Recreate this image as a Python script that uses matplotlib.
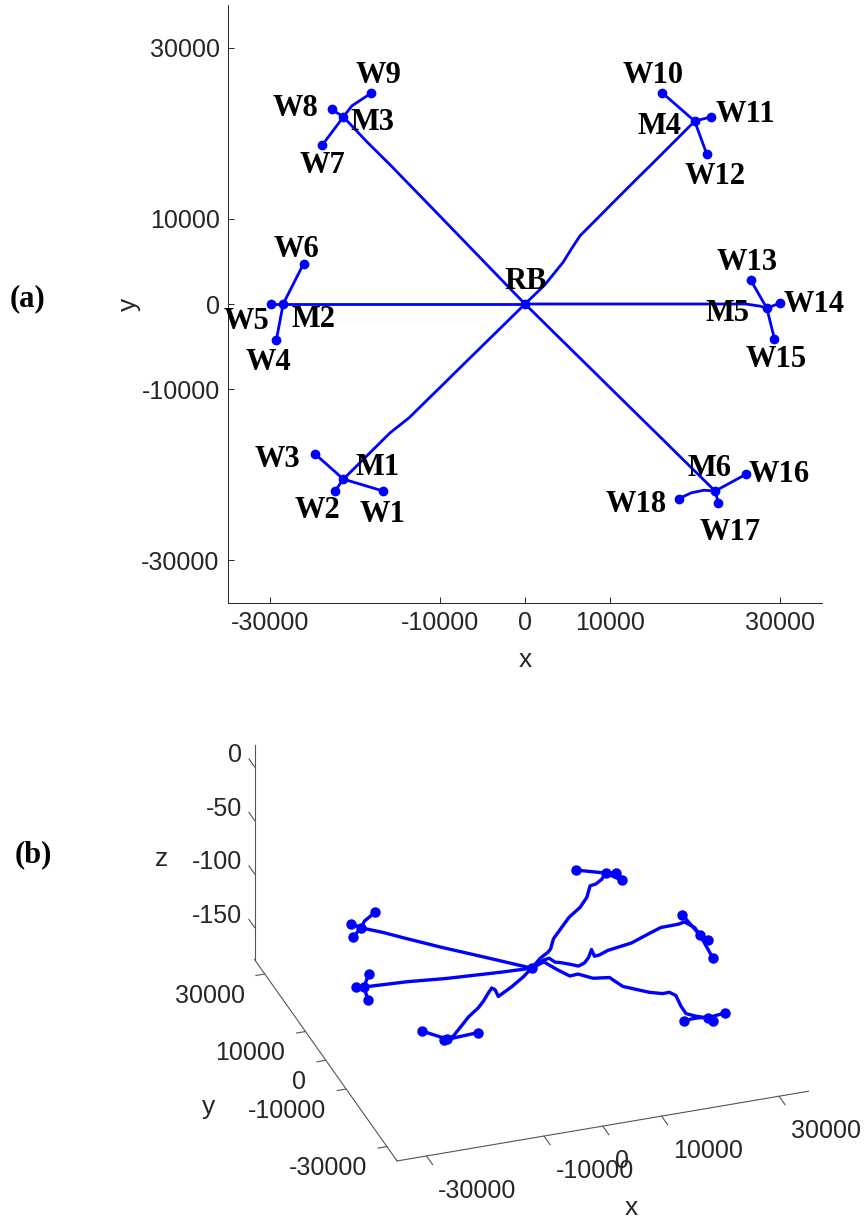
#!/usr/bin/env python3
"""Fleet paths from the rendezvous base RB to the hubs M1..M6 and on to the
waypoints W1..W18: (a) plan view with labels, (b) 3-D view with depth."""
import numpy as np
import matplotlib
matplotlib.use("Agg")
import matplotlib.pyplot as plt

BLUE = "#0000ff"
INK = "#262626"
SANS = "Liberation Sans"
SERIF = "Liberation Serif"

# ---- data -------------------------------------------------------------------
rb_x, rb_y, rb_z = 0, 0, -126.5

hub_names = ["M1", "M2", "M3", "M4", "M5", "M6"]
hub_x = [-21400, -28500, -21400, 20000, 28500, 22400]
hub_y = [-20500, 0, 21900, 21400, -500, -21900]
hub_z = [-118.0, -117.6, -127.8, -113.8, -121.0, -134.9]

w_names = [f"W{i}" for i in range(1, 19)]
w_hub = [0, 0, 0, 1, 1, 1, 2, 2, 2, 3, 3, 3, 4, 4, 4, 5, 5, 5]
w_x = [-16700, -22400, -24700, -29300, -29900, -26100, -23900, -22800, -18100,
       16200, 21900, 21400, 26600, 30000, 29400, 26100, 22800, 18100]
w_y = [-21900, -21900, -17600, -4200, 0, 4700, 18600, 22800, 24700,
       24700, 21900, 17600, 2800, 100, -4100, -19900, -23300, -22800]
w_z = [-112.3, -113.9, -115.0, -117.6, -116.0, -120.5, -125.0, -125.0, -124.0,
       -116.4, -116.6, -111.5, -108.8, -128.0, -133.0, -139.0, -134.6, -131.6]

# bends on the hub -> waypoint branches (plan view)
bend_w9_x, bend_w9_y = [-20400], [23200]
bend_w18_x, bend_w18_y = [21100, 19600], [-21800, -22100]

# tracks RB -> hub
m1_x = [0, -2100, -5090, -8530, -9370, -10230, -11090, -12390, -13640, -15900, -16420, -19860, -21400]
m1_y = [0, -2050, -4960, -8310, -9140, -9980, -10810, -12080, -13300, -15080, -15590, -18980, -20500]
m1_z = [-126.5, -127.1, -125.8, -122.7, -113.4, -108.7, -110.3, -113.5, -115.0, -116.5, -117.0, -120.4, -118.0]

m2_x = [0, -5000, -10000, -14370, -18000, -21150, -25000, -28500]
m2_y = [0, 0, 0, 0, 0, 0, 0, 0]
m2_z = [-126.5, -125.5, -124.0, -122.7, -121.0, -119.5, -118.5, -117.6]

m3_x = [0, -6000, -11400, -16000, -18600, -21400]
m3_y = [0, 6150, 11700, 16400, 18950, 21900]
m3_z = [-126.5, -127.0, -127.7, -127.5, -126.9, -127.8]

m4_x = [0, 2300, 4500, 5500, 6500, 10540, 13400, 15140, 15990, 17500, 19030, 20000]
m4_y = [0, 2200, 4900, 6500, 8000, 12036, 14875, 16574, 17420, 18919, 20437, 21400]
m4_z = [-126.5, -125.0, -129.0, -131.0, -126.6, -121.2, -122.2, -119.1, -111.3, -115.0, -116.1, -113.8]

m5_x = [0, 2000, 3000, 4000, 5000, 6500, 8000, 9000, 9700, 10200, 10700, 11500,
        13000, 17000, 20000, 22000, 25000, 26000, 27700, 28500]
m5_y = [0, 0, 0, 0, 0, 0, 0, 0, 0, 0, 0, 0, 0, 0, 0, 0, 0, 0, -250, -500]
m5_z = [-126.5, -121.0, -120.0, -124.6, -126.0, -128.9, -132.0, -130.0, -125.6, -118.6, -125.3, -125.0,
        -122.0, -118.8, -112.8, -109.0, -108.7, -107.5, -113.8, -121.0]

m6_x = [0, 1570, 3180, 4860, 5910, 7820, 9920, 10350, 11600, 14990, 16670, 17520,
        18350, 19000, 19620, 20880, 22400]
m6_y = [0, -1530, -3110, -4750, -5780, -7640, -9700, -10120, -11340, -14650, -16290, -17130,
        -17940, -18570, -19180, -20410, -21900]
m6_z = [-126.5, -118.0, -122.2, -125.6, -122.0, -122.7, -118.4, -119.9, -123.9, -123.7, -122.0, -119.3,
        -121.0, -129.9, -135.6, -136.0, -134.9]

# label anchors in the plan view
lab_names = ["RB", "M1", "M2", "M3", "M4", "M5", "M6"] + w_names
lab_x = [100, -17400, -24900, -18000, 15900, 23900, 21800,
         -16800, -24500, -29200, -30200, -32800, -26900, -23900, -27100, -17200,
         15100, 26000, 22400, 26200, 34100, 29600, 29900, 24200, 13100]
lab_y = [2600, -19100, -1800, 21200, 20800, -1100, -19200,
         -24600, -24200, -18200, -6800, -2100, 6400, 16200, 22900, 26700,
         26800, 22200, 14900, 4900, 0, -6500, -19900, -26700, -23500]

ticks_xy = [-30000, -10000, 0, 10000, 30000]
ticks_z = [0, -50, -100, -150]
LIM_XY = (-35000, 35000)
LIM_Z = (-180, 20)

legs = [(m1_x, m1_y, m1_z), (m2_x, m2_y, m2_z), (m3_x, m3_y, m3_z),
        (m4_x, m4_y, m4_z), (m5_x, m5_y, m5_z), (m6_x, m6_y, m6_z)]
bends = {"W9": (bend_w9_x, bend_w9_y), "W18": (bend_w18_x, bend_w18_y)}

branches = []
for i, h in enumerate(w_hub):
    mx, my = bends.get(w_names[i], ([], []))
    bx = [hub_x[h]] + mx + [w_x[i]]
    by = [hub_y[h]] + my + [w_y[i]]
    bz = np.linspace(hub_z[h], w_z[i], len(bx))
    branches.append((bx, by, bz))

dots_x = hub_x + w_x + [rb_x]
dots_y = hub_y + w_y + [rb_y]
dots_z = hub_z + w_z + [rb_z]

W, H = 867, 1222
fig = plt.figure(figsize=(W / 100, H / 100), dpi=100)

# ---- (a) plan view ----------------------------------------------------------
ax = fig.add_axes([228 / W, 1 - 603 / H, 594 / W, 598 / H])
for lx, ly, _ in legs + branches:
    ax.plot(lx, ly, color=BLUE, lw=2, solid_capstyle="round")
ax.plot(dots_x, dots_y, "o", color=BLUE, ms=6, ls="none")
for s, x, y in zip(lab_names, lab_x, lab_y):
    ax.text(x, y, s, family=SERIF, weight="bold", fontsize=22, ha="center", va="center")

ax.set_xlim(*LIM_XY); ax.set_ylim(*LIM_XY)
ax.set_xticks(ticks_xy); ax.set_xticklabels([str(t) for t in ticks_xy])
ax.set_yticks(ticks_xy); ax.set_yticklabels([str(t) for t in ticks_xy])
for sp in ("top", "right"):
    ax.spines[sp].set_visible(False)
for sp in ("left", "bottom"):
    ax.spines[sp].set_color(INK); ax.spines[sp].set_linewidth(0.7)
ax.tick_params(direction="in", length=4, width=0.7, colors=INK, labelsize=18, pad=6)
for t in ax.get_xticklabels() + ax.get_yticklabels():
    t.set_family(SANS)
ax.set_xlabel("x", family=SANS, fontsize=19, color=INK, va="center")
ax.set_ylabel("y", family=SANS, fontsize=19, color=INK, va="center")
ax.xaxis.set_label_coords(0.5, -0.095)
ax.yaxis.set_label_coords(-0.167, 0.5)
fig.text(28 / W, 1 - 299 / H, "(a)", family=SERIF, weight="bold", fontsize=22, ha="center", va="center")

# ---- (b) 3-D view -------------------------------------------------------------
ax3 = fig.add_axes([265.7 / W, 1 - 1184.2 / H, 517.7 / W, 517.7 / H], projection="3d")
ax3.set_proj_type("ortho")
ax3.set_xlim(*LIM_XY); ax3.set_ylim(*LIM_XY); ax3.set_zlim(*LIM_Z)
ax3.set_box_aspect((1, 1, 0.564), zoom=1.243)
ax3.view_init(elev=29.3, azim=-109.1)
ax3.set_axis_off()
ax3.patch.set_facecolor("none")

x0, x1 = LIM_XY; y0, y1 = LIM_XY; z0, z1 = LIM_Z
axis_kw = dict(color="#555555", lw=0.8, clip_on=False)
ax3.plot([x0, x1], [y0, y0], [z0, z0], **axis_kw)
ax3.plot([x0, x0], [y0, y1], [z0, z0], **axis_kw)
ax3.plot([x0, x0], [y1, y1], [z0, z1], **axis_kw)
txt_kw = dict(family=SANS, fontsize=18, color=INK)
for t in ticks_xy:
    ax3.plot([t, t], [y0, y0 - 3000], [z0, z0], **axis_kw)
    ax3.text(t - 1930, y0 - 11360, z0, str(t), ha="left", va="center", **txt_kw)
    ax3.plot([x0, x0 - 1500], [t, t], [z0, z0], **axis_kw)
    ax3.text(x0 - 5380, t - 5710, z0, str(t), ha="right", va="center", **txt_kw)
for t in ticks_z:
    ax3.plot([x0, x0], [y1, y1 + 2800], [t, t], **axis_kw)
    ax3.text(x0, y1 + 6310, t - 6, str(t), ha="right", va="center", **txt_kw)
lab_kw = dict(family=SANS, fontsize=19, color=INK, ha="center", va="center")
ax3.text(-4420, -62000, z0, "x", **lab_kw)
ax3.text(-57900, -8275, z0, "y", **lab_kw)
ax3.text(-50760, y1, -71.4, "z", **lab_kw)

for lx, ly, lz in legs + branches:
    ax3.plot(lx, ly, lz, color=BLUE, lw=2.4, clip_on=False, solid_capstyle="round")
ax3.plot(dots_x, dots_y, dots_z, "o", color=BLUE, ms=6.5, ls="none", clip_on=False)
fig.text(33 / W, 1 - 855 / H, "(b)", family=SERIF, weight="bold", fontsize=22, ha="center", va="center")

fig.savefig("out.png", dpi=100)
